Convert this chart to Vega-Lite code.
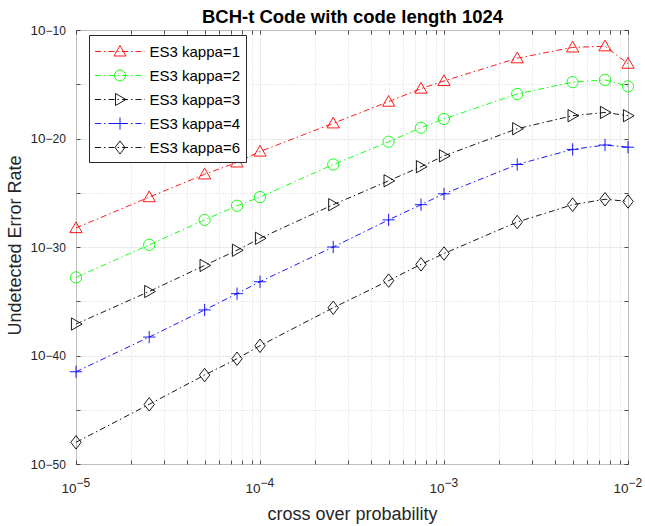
{
  "$schema": "https://vega.github.io/schema/vega-lite/v6.json",
  "width": 552,
  "height": 434,
  "autosize": "none",
  "padding": {"left": 76, "top": 30, "right": 17, "bottom": 62},
  "config": {
    "font": "Liberation Sans",
    "view": {"stroke": "#262626", "strokeWidth": 1},
    "axis": {"labelColor": "#262626", "tickColor": "#262626", "titleColor": "#262626", "titleFontWeight": "normal", "labelFlush": false, "labelOverlap": false, "labelBound": false}
  },
  "data": {
    "values": [
      {"p": 1e-5, "r": 5.62e-29, "s": "ES3 kappa=1"},
      {"p": 2.5e-5, "r": 3.98e-26, "s": "ES3 kappa=1"},
      {"p": 5e-5, "r": 5.01e-24, "s": "ES3 kappa=1"},
      {"p": 7.5e-5, "r": 6.31e-23, "s": "ES3 kappa=1"},
      {"p": 1e-4, "r": 6.31e-22, "s": "ES3 kappa=1"},
      {"p": 2.5e-4, "r": 2.51e-19, "s": "ES3 kappa=1"},
      {"p": 5e-4, "r": 2.51e-17, "s": "ES3 kappa=1"},
      {"p": 7.5e-4, "r": 3.98e-16, "s": "ES3 kappa=1"},
      {"p": 1e-3, "r": 2.0e-15, "s": "ES3 kappa=1"},
      {"p": 2.5e-3, "r": 2.51e-13, "s": "ES3 kappa=1"},
      {"p": 5e-3, "r": 2.51e-12, "s": "ES3 kappa=1"},
      {"p": 7.5e-3, "r": 3.16e-12, "s": "ES3 kappa=1"},
      {"p": 1e-2, "r": 7.94e-14, "s": "ES3 kappa=1"},
      {"p": 1e-5, "r": 1.58e-33, "s": "ES3 kappa=2"},
      {"p": 2.5e-5, "r": 1.58e-30, "s": "ES3 kappa=2"},
      {"p": 5e-5, "r": 3.16e-28, "s": "ES3 kappa=2"},
      {"p": 7.5e-5, "r": 6.31e-27, "s": "ES3 kappa=2"},
      {"p": 1e-4, "r": 3.98e-26, "s": "ES3 kappa=2"},
      {"p": 2.5e-4, "r": 3.98e-23, "s": "ES3 kappa=2"},
      {"p": 5e-4, "r": 5.01e-21, "s": "ES3 kappa=2"},
      {"p": 7.5e-4, "r": 1e-19, "s": "ES3 kappa=2"},
      {"p": 1e-3, "r": 6.31e-19, "s": "ES3 kappa=2"},
      {"p": 2.5e-3, "r": 1.26e-16, "s": "ES3 kappa=2"},
      {"p": 5e-3, "r": 1.58e-15, "s": "ES3 kappa=2"},
      {"p": 7.5e-3, "r": 2.51e-15, "s": "ES3 kappa=2"},
      {"p": 1e-2, "r": 6.31e-16, "s": "ES3 kappa=2"},
      {"p": 1e-5, "r": 7.94e-38, "s": "ES3 kappa=3"},
      {"p": 2.5e-5, "r": 7.94e-35, "s": "ES3 kappa=3"},
      {"p": 5e-5, "r": 2.0e-32, "s": "ES3 kappa=3"},
      {"p": 7.5e-5, "r": 5.01e-31, "s": "ES3 kappa=3"},
      {"p": 1e-4, "r": 6.31e-30, "s": "ES3 kappa=3"},
      {"p": 2.5e-4, "r": 7.94e-27, "s": "ES3 kappa=3"},
      {"p": 5e-4, "r": 1.26e-24, "s": "ES3 kappa=3"},
      {"p": 7.5e-4, "r": 2.51e-23, "s": "ES3 kappa=3"},
      {"p": 1e-3, "r": 2.51e-22, "s": "ES3 kappa=3"},
      {"p": 2.5e-3, "r": 7.94e-20, "s": "ES3 kappa=3"},
      {"p": 5e-3, "r": 1.26e-18, "s": "ES3 kappa=3"},
      {"p": 7.5e-3, "r": 2.51e-18, "s": "ES3 kappa=3"},
      {"p": 1e-2, "r": 1.26e-18, "s": "ES3 kappa=3"},
      {"p": 1e-5, "r": 3.16e-42, "s": "ES3 kappa=4"},
      {"p": 2.5e-5, "r": 5.01e-39, "s": "ES3 kappa=4"},
      {"p": 5e-5, "r": 1.58e-36, "s": "ES3 kappa=4"},
      {"p": 7.5e-5, "r": 5.01e-35, "s": "ES3 kappa=4"},
      {"p": 1e-4, "r": 6.31e-34, "s": "ES3 kappa=4"},
      {"p": 2.5e-4, "r": 1e-30, "s": "ES3 kappa=4"},
      {"p": 5e-4, "r": 3.16e-28, "s": "ES3 kappa=4"},
      {"p": 7.5e-4, "r": 7.94e-27, "s": "ES3 kappa=4"},
      {"p": 1e-3, "r": 7.94e-26, "s": "ES3 kappa=4"},
      {"p": 2.5e-3, "r": 3.98e-23, "s": "ES3 kappa=4"},
      {"p": 5e-3, "r": 1e-21, "s": "ES3 kappa=4"},
      {"p": 7.5e-3, "r": 2.51e-21, "s": "ES3 kappa=4"},
      {"p": 1e-2, "r": 1.58e-21, "s": "ES3 kappa=4"},
      {"p": 1e-5, "r": 1e-48, "s": "ES3 kappa=6"},
      {"p": 2.5e-5, "r": 3.16e-45, "s": "ES3 kappa=6"},
      {"p": 5e-5, "r": 1.58e-42, "s": "ES3 kappa=6"},
      {"p": 7.5e-5, "r": 5.01e-41, "s": "ES3 kappa=6"},
      {"p": 1e-4, "r": 7.94e-40, "s": "ES3 kappa=6"},
      {"p": 2.5e-4, "r": 2.51e-36, "s": "ES3 kappa=6"},
      {"p": 5e-4, "r": 7.94e-34, "s": "ES3 kappa=6"},
      {"p": 7.5e-4, "r": 2.51e-32, "s": "ES3 kappa=6"},
      {"p": 1e-3, "r": 2.51e-31, "s": "ES3 kappa=6"},
      {"p": 2.5e-3, "r": 2.0e-28, "s": "ES3 kappa=6"},
      {"p": 5e-3, "r": 7.94e-27, "s": "ES3 kappa=6"},
      {"p": 7.5e-3, "r": 2.51e-26, "s": "ES3 kappa=6"},
      {"p": 1e-2, "r": 1.58e-26, "s": "ES3 kappa=6"}
    ]
  },
  "layer": [
    {
      "mark": {"type": "point", "filled": false, "opacity": 1, "size": 150, "strokeWidth": 0.9},
      "encoding": {
        "x": {"field": "p", "type": "quantitative", "scale": {"type": "log", "domain": [1e-5, 1e-2], "nice": false},
          "axis": {"orient": "bottom", "values": [1e-5,2e-5,3e-5,4e-5,5e-5,6e-5,7e-5,8e-5,9e-5,1e-4,2e-4,3e-4,4e-4,5e-4,6e-4,7e-4,8e-4,9e-4,1e-3,2e-3,3e-3,4e-3,5e-3,6e-3,7e-3,8e-3,9e-3,1e-2],
            "labelExpr": "abs(log(datum.value)/LN10 - round(log(datum.value)/LN10)) < 0.001 ? '10' : ''",
            "labelFontSize": 13.5, "labelAlign": "right", "labelDx": 1, "labelBaseline": "middle", "labelPadding": 28,
            "domain": false, "ticks": true, "tickSize": -4, "tickWidth": 0.8, "grid": false,
            "title": "cross over probability", "titleFontSize": 18, "titleBaseline": "alphabetic", "titleY": 55}},
        "y": {"field": "r", "type": "quantitative", "scale": {"type": "log", "domain": [1e-50, 1e-10], "nice": false},
          "axis": {"orient": "left", "values": [1e-10,1e-15,1e-20,1e-25,1e-30,1e-35,1e-40,1e-45,1e-50],
            "labelExpr": "round(log(datum.value)/LN10) % 10 == 0 ? '10' : ''",
            "labelFontSize": 13.5, "labelAlign": "right", "labelBaseline": "middle", "labelDy": 4, "labelPadding": 35,
            "domain": false, "ticks": true, "tickSize": -4, "tickWidth": 0.8, "grid": false,
            "title": "Undetected Error Rate", "titleFontSize": 18, "titleAngle": 270, "titleBaseline": "alphabetic", "titleAlign": "center", "titleX": -56, "titleY": 215}},
        "color": {"field": "s", "type": "nominal", "scale": {"domain": ["ES3 kappa=1","ES3 kappa=2","ES3 kappa=3","ES3 kappa=4","ES3 kappa=6"], "range": ["#ff0000","#00ff00","#000000","#0000ff","#000000"]}, "legend": null},
        "shape": {"field": "s", "type": "nominal", "scale": {"domain": ["ES3 kappa=1","ES3 kappa=2","ES3 kappa=3","ES3 kappa=4","ES3 kappa=6"], "range": ["M0,-1L1,0.75L-1,0.75Z", "M0.92,0A0.92,0.92,0,1,1,-0.92,0A0.92,0.92,0,1,1,0.92,0Z", "M1,0L-0.75,-1L-0.75,1Z", "M-1,0H1M0,-1V1", "M0,-1.1L0.85,0L0,1.1L-0.85,0Z"]}, "legend": null}
      }
    },
    {
      "mark": {"type": "line", "strokeDash": [6, 3, 1.5, 3], "strokeWidth": 0.9},
      "encoding": {
        "x": {"field": "p", "type": "quantitative", "scale": {"type": "log", "domain": [1e-5, 1e-2], "nice": false},
          "axis": {"orient": "top", "values": [1e-5,2e-5,3e-5,4e-5,5e-5,6e-5,7e-5,8e-5,9e-5,1e-4,2e-4,3e-4,4e-4,5e-4,6e-4,7e-4,8e-4,9e-4,1e-3,2e-3,3e-3,4e-3,5e-3,6e-3,7e-3,8e-3,9e-3,1e-2],
            "labels": false, "domain": false, "ticks": true, "tickSize": -4, "tickWidth": 0.8,
            "title": "BCH-t Code with code length 1024", "titleFontSize": 18.5, "titleFontWeight": "bold", "titleColor": "#000000", "titleBaseline": "alphabetic", "titleAlign": "center", "titleX": 276, "titleY": -8,
            "grid": true, "gridWidth": 0.8,
            "gridColor": {"condition": {"test": "abs(log(datum.value)/LN10 - round(log(datum.value)/LN10)) < 0.001", "value": "#e6e6e6"}, "value": "#cccccc"},
            "gridDash": {"condition": {"test": "abs(log(datum.value)/LN10 - round(log(datum.value)/LN10)) < 0.001", "value": []}, "value": [1, 2]}}},
        "y": {"field": "r", "type": "quantitative", "scale": {"type": "log", "domain": [1e-50, 1e-10], "nice": false},
          "axis": {"orient": "right", "values": [1e-10,1e-15,1e-20,1e-25,1e-30,1e-35,1e-40,1e-45,1e-50],
            "labels": false, "domain": false, "ticks": true, "tickSize": -4, "tickWidth": 0.8, "title": null,
            "grid": true, "gridWidth": 0.8,
            "gridColor": {"condition": {"test": "round(log(datum.value)/LN10) % 10 == 0", "value": "#e6e6e6"}, "value": "#cccccc"},
            "gridDash": {"condition": {"test": "round(log(datum.value)/LN10) % 10 == 0", "value": []}, "value": [1, 2]}}},
        "stroke": {"field": "s", "type": "nominal", "scale": {"domain": ["ES3 kappa=1","ES3 kappa=2","ES3 kappa=3","ES3 kappa=4","ES3 kappa=6"], "range": ["#ff0000","#00ff00","#000000","#0000ff","#000000"]}, "legend": null}
      }
    },
    {
      "mark": {"type": "point", "filled": false, "opacity": 0, "strokeWidth": 0.9},
      "encoding": {
        "x": {"field": "p", "type": "quantitative", "scale": {"type": "log", "domain": [1e-5, 1e-2], "nice": false},
          "axis": {"orient": "bottom", "values": [1e-5,1e-4,1e-3,1e-2],
            "labelExpr": "'\u2212' + abs(round(log(datum.value)/LN10))",
            "labelFontSize": 12, "labelAlign": "left", "labelDx": 2, "labelBaseline": "middle", "labelPadding": 18,
            "domain": false, "ticks": false, "grid": false, "title": null}},
        "y": {"field": "r", "type": "quantitative", "scale": {"type": "log", "domain": [1e-50, 1e-10], "nice": false},
          "axis": {"orient": "left", "values": [1e-10,1e-20,1e-30,1e-40,1e-50],
            "labelExpr": "'\u2212' + abs(round(log(datum.value)/LN10))",
            "labelFontSize": 12, "labelAlign": "left", "labelDx": 1, "labelBaseline": "middle", "labelDy": -3, "labelPadding": 31,
            "domain": false, "ticks": false, "grid": false, "title": null}},
        "color": {"field": "s", "type": "nominal", "scale": {"domain": ["ES3 kappa=1","ES3 kappa=2","ES3 kappa=3","ES3 kappa=4","ES3 kappa=6"], "range": ["#ff0000","#00ff00","#000000","#0000ff","#000000"]},
          "legend": {"title": null, "orient": "none", "legendX": 13, "legendY": 5, "symbolSize": 400, "symbolOffset": 14.5, "symbolOpacity": 1, "labelFontSize": 15, "labelColor": "#000000", "labelOffset": 19, "padding": 6, "rowPadding": 5, "fillColor": "#ffffff", "strokeColor": "#262626", "symbolStrokeWidth": 0.9}},
        "shape": {"field": "s", "type": "nominal", "scale": {"domain": ["ES3 kappa=1","ES3 kappa=2","ES3 kappa=3","ES3 kappa=4","ES3 kappa=6"], "range": [
            "M-2.5,0H-1.9M-1.6,0H-1.45M-1.15,0H-0.55M-0.25,0H-0.1M0.2,0H0.8M1.1,0H1.25M1.55,0H2.15M2.45,0H2.5M0,-0.6L0.6,0.45L-0.6,0.45Z",
            "M-2.5,0H-1.9M-1.6,0H-1.45M-1.15,0H-0.55M-0.25,0H-0.1M0.2,0H0.8M1.1,0H1.25M1.55,0H2.15M2.45,0H2.5M0.55,0A0.55,0.55,0,1,1,-0.55,0A0.55,0.55,0,1,1,0.55,0Z",
            "M-2.5,0H-1.9M-1.6,0H-1.45M-1.15,0H-0.55M-0.25,0H-0.1M0.2,0H0.8M1.1,0H1.25M1.55,0H2.15M2.45,0H2.5M0.6,0L-0.45,-0.6L-0.45,0.6Z",
            "M-2.5,0H-1.9M-1.6,0H-1.45M-1.15,0H-0.55M-0.25,0H-0.1M0.2,0H0.8M1.1,0H1.25M1.55,0H2.15M2.45,0H2.5M-0.6,0H0.6M0,-0.6V0.6",
            "M-2.5,0H-1.9M-1.6,0H-1.45M-1.15,0H-0.55M-0.25,0H-0.1M0.2,0H0.8M1.1,0H1.25M1.55,0H2.15M2.45,0H2.5M0,-0.65L0.5,0L0,0.65L-0.5,0Z"]},
          "legend": {"title": null, "orient": "none", "legendX": 13, "legendY": 5, "symbolSize": 400, "symbolOffset": 14.5, "symbolOpacity": 1, "labelFontSize": 15, "labelColor": "#000000", "labelOffset": 19, "padding": 6, "rowPadding": 5, "fillColor": "#ffffff", "strokeColor": "#262626", "symbolStrokeWidth": 0.9}}
      }
    }
  ],
  "resolve": {"axis": {"x": "independent", "y": "independent"}, "scale": {"color": "independent", "shape": "independent"}}
}
